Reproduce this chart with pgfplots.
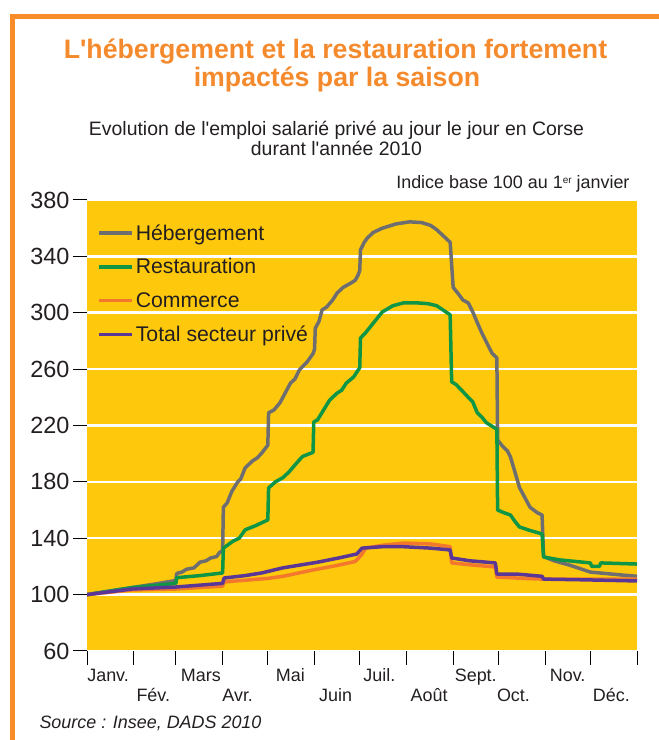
\documentclass[border=0pt]{standalone}
\usepackage{pgfplots}
\pgfplotsset{compat=1.18}
\usepackage{fontspec}
\setmainfont{Liberation Sans}
\definecolor{bgyellow}{RGB}{254,201,12}
\definecolor{frameorange}{RGB}{247,140,40}
\definecolor{titleorange}{RGB}{245,138,45}
\definecolor{hebgray}{RGB}{110,110,112}
\definecolor{restgreen}{RGB}{14,150,70}
\definecolor{commorange}{RGB}{243,120,45}
\definecolor{totpurple}{RGB}{90,55,150}
\definecolor{txt}{RGB}{35,31,32}
\begin{document}
\begin{tikzpicture}
\useasboundingbox (0bp,0bp) rectangle (659bp,740bp);
\fill[frameorange] (10bp,0bp) rectangle (15bp,726bp);
\fill[frameorange] (10bp,721bp) rectangle (659bp,726bp);
\node[anchor=base, font=\fontsize{26.8}{28}\selectfont\bfseries, text=titleorange] at (335.5bp,681bp) {L\textquotesingle hébergement et la restauration fortement};
\node[anchor=base, font=\fontsize{26.8}{28}\selectfont\bfseries, text=titleorange] at (337bp,653bp) {impactés par la saison};
\node[anchor=base, text=txt, font=\fontsize{19.5}{20}\selectfont] at (336.5bp,604bp) {Evolution de l\textquotesingle emploi salarié privé au jour le jour en Corse};
\node[anchor=base, text=txt, font=\fontsize{19.5}{20}\selectfont] at (336.5bp,584bp) {durant l\textquotesingle année 2010};
\node[anchor=base east, text=txt, font=\fontsize{18}{18}\selectfont] at (633bp,551bp) {Indice base 100 au 1\raisebox{5bp}{\fontsize{10}{10}\selectfont er} janvier};
\node[anchor=base west, text=txt, font=\fontsize{18}{18}\selectfont\itshape] at (36bp,12bp) {Source : Insee, DADS 2010};
\begin{axis}[
  at={(87bp,89bp)}, anchor=south west,
  scale only axis, width=550bp, height=451bp,
  xmin=0, xmax=365, ymin=60, ymax=380,
  axis background/.style={fill=bgyellow},
  axis line style={draw=none},
  xtick pos=bottom, ytick pos=left,
  tick align=outside,
  major tick length=14bp,
  every tick/.style={black, line width=1bp},
  ytick={60,100,140,180,220,260,300,340,380},
  ymajorgrids=true,
  major grid style={white, line width=2.5bp},
  yticklabel style={font=\fontsize{23.5}{23.5}\selectfont, text=txt},
  /pgf/number format/assume math mode=true,
  xtick={0,31,59,90,120,151,181,212,243,273,304,334,365},
  xticklabels={},
  extra x ticks={14,44,75.6,100,135,165,194,227,258,283,319,348},
  extra x tick labels={Janv.,\raisebox{-20bp}{Fév.},Mars,\raisebox{-20bp}{Avr.},Mai,\raisebox{-20bp}{Juin},Juil.,\raisebox{-20bp}{Août},Sept.,\raisebox{-20bp}{Oct.},Nov.,\raisebox{-20bp}{Déc.}},
  extra x tick style={major tick length=0pt, xticklabel style={font=\fontsize{18}{18}\selectfont, text=txt, text height=13bp, text depth=4bp, anchor=north, inner sep=0pt, yshift=-17bp}},
  legend style={at={(0.013,0.955)}, anchor=north west, draw=none, fill=none, font=\fontsize{21.3}{22}\selectfont, text=txt, row sep=13bp, cells={anchor=west}},
  legend image code/.code={\draw[#1, line width=3.5bp] (0bp,0bp) -- (33bp,0bp);},
  every axis plot/.append style={line width=3.5bp, line join=round},
]
\addplot[hebgray] coordinates {(0,100) (15,102.5) (30,105) (45,107.5) (59,110) (59.5,115) (63,116) (66,118) (71,119) (75,123) (79,124) (82,126) (86,127) (88,130) (90,131) (90.5,162) (93,165) (96,173) (100,180) (102,182) (105,190) (110,195) (113,197) (116,200.5) (120,206) (120.5,229) (124,231) (128,236) (131,242) (135,250) (138,253) (141,259.5) (146,265) (150,271) (151,274) (151.5,289) (154,294) (156,302) (159,304) (163,309) (166,314) (170,318) (175,321) (178,323) (180,327) (181,330) (181.5,344.6) (184,350) (186,353) (190,357) (196,360) (205,363) (214,364.5) (222,364) (228,362) (232,359) (236,355) (241,350) (243,318) (246,314) (249.5,309) (253,307) (256,300.6) (259,293) (262,285.7) (267,275) (269,271) (271,269) (272,268) (272.5,209.7) (276,205) (279,202) (281,197.7) (284,187) (287,176) (291,168) (294,162) (299,158) (302,156.5) (303,127) (310,124) (320,121) (334,116) (344,115) (354,114) (365,113)};
\addlegendentry{Hébergement}
\addplot[restgreen] coordinates {(0,100) (15,102.5) (30,105) (45,106.5) (59,108) (59.5,112) (75,113.5) (90,115.4) (90.5,133) (97,138) (101,140) (105,146) (112,149) (120,153) (120.5,175.7) (125,180) (130,183) (134,187) (138,192) (143,198) (150,201) (150.5,222.5) (153,224) (157,231) (161,238) (166,243) (169,245) (172,250) (177,254.5) (181,261) (181.5,282) (185,286) (188,290) (196,300.6) (203,305) (210,307) (219,307) (226,306.5) (232,305) (239,300) (241,298.5) (242,251) (245,249) (249.5,244) (253,240) (256,236.7) (259,229) (262,226) (265,222) (271,218) (272,217) (272.5,160) (277,158) (281,156.5) (284,152) (287,148) (294,145.5) (300,143.7) (302,143) (303,126.7) (314,124.6) (334,122.5) (335,120) (340,120) (341,122.5) (365,121.7)};
\addlegendentry{Restauration}
\addplot[commorange] coordinates {(0,100) (30,103.3) (59,104) (90,106) (91,109) (120,111.5) (130,113) (150,117.5) (165,120.5) (178,123.5) (182,128) (185,133) (196,135) (210,136.6) (228,136) (241,134) (242,122.5) (256,121) (271,119.6) (272,112.5) (290,111.5) (303,111) (365,111)};
\addlegendentry{Commerce}
\addplot[totpurple] coordinates {(0,100) (30,104) (59,105.4) (90,108) (91,111.8) (105,113.5) (116,115.4) (130,119) (153,123) (167,126) (179,128.8) (182.5,133) (196,134) (210,134) (228,133) (241,131.7) (242,126) (254,124) (271,122.5) (272,114.6) (285,114.6) (302,113) (303,111) (330,110.5) (365,109.7)};
\addlegendentry{Total secteur privé}
\end{axis}
\end{tikzpicture}
\end{document}
